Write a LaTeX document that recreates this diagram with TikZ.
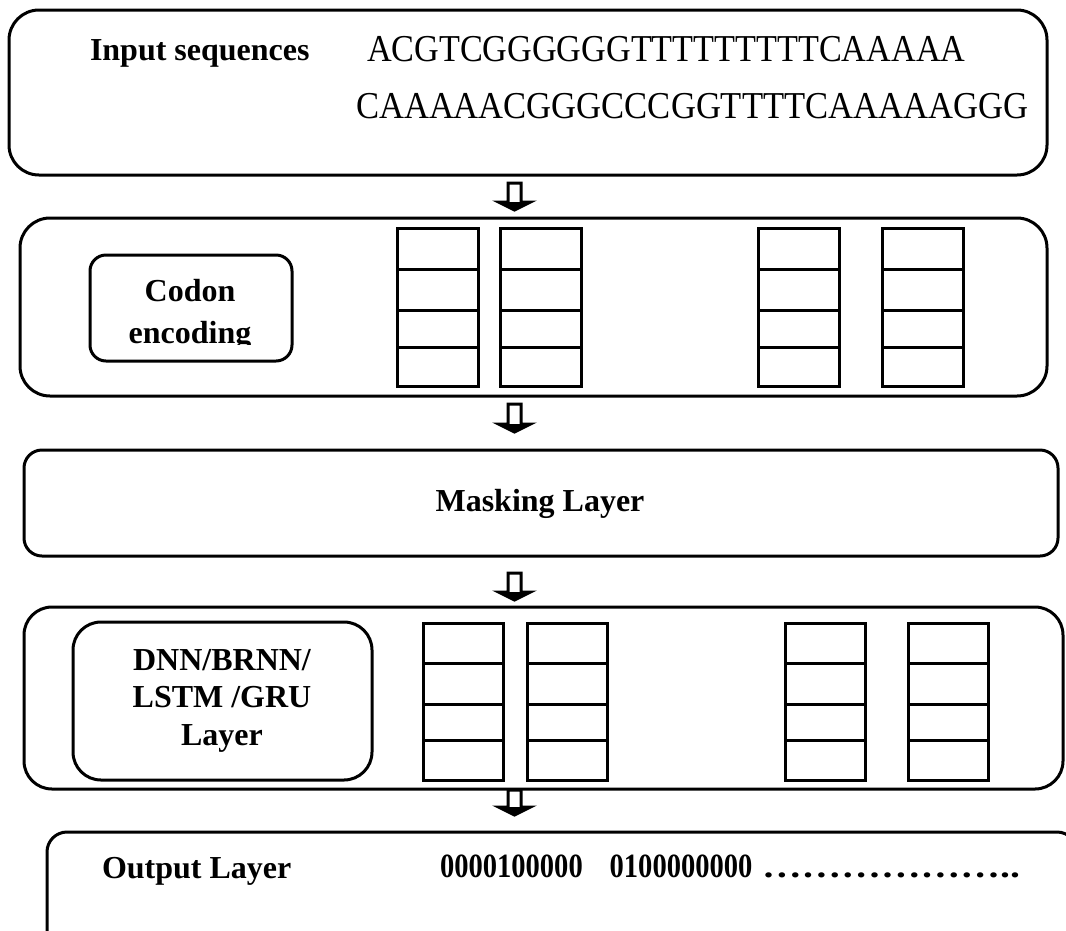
\documentclass[tikz,border=0pt]{standalone}
\usepackage{fontspec}
\setmainfont{Liberation Serif}
\tikzset{
  box/.style={draw=black, line width=3pt, inner sep=0pt, outer sep=0pt, anchor=north west, fill=white},
  cellline/.style={draw=black, line width=3pt},
  barrow/.style={draw=black, line width=3pt, fill=white, line join=miter},
  bhead/.style={fill=black},
  btxt/.style={inner sep=0pt, outer sep=0pt, font=\bfseries\fontsize{32}{38}\selectfont},
  seqtxt/.style={inner sep=0pt, outer sep=0pt, font=\fontsize{38}{44}\selectfont},
}
\newcommand\blockarr[2]{%
  \draw[barrow] (508,#1) -- (521,#1) -- (521,{#2-8}) -- (530.5,{#2-8}) -- (514.5,#2) -- (498.5,{#2-8}) -- (508,{#2-8}) -- cycle;
  \fill[bhead] (530.5,{#2-8}) -- (514.5,#2) -- (498.5,{#2-8}) -- cycle;}
\begin{document}
\begin{tikzpicture}[x=1pt,y=-1pt]
\useasboundingbox (0,0) rectangle (1066,930);
\clip (0,0) rectangle (1066,930);
% boxes
\node[box, rounded corners=30pt, minimum width=1038pt, minimum height=165pt] (inp) at (9,10) {};
\node[box, rounded corners=30pt, minimum width=1027pt, minimum height=178pt] (enc) at (20,218) {};
\node[box, rounded corners=18pt, minimum width=1034pt, minimum height=106pt] (mask) at (24,450) {};
\node[box, rounded corners=28pt, minimum width=1039pt, minimum height=182pt] (rnn) at (24,607) {};
\node[box, rounded corners=20pt, minimum width=1030pt, minimum height=130pt] (out) at (47,832) {};
\node[box, rounded corners=16pt, minimum width=202pt, minimum height=106pt] (codon) at (90,255) {};
\node[box, rounded corners=28pt, minimum width=299pt, minimum height=158pt] (dnn) at (73,622) {};
% arrows
\blockarr{183}{210}
\blockarr{404}{432}
\blockarr{573}{600}
\blockarr{790}{815}
% cells in encoding box
\foreach \x in {397,500,758,882}{
  \draw[cellline] (\x,228) rectangle ({\x+81},386);
  \foreach \y in {269,310,347}{\draw[cellline] (\x,\y) -- ({\x+81},\y);}
}
% cells in rnn box
\foreach \x in {423,527,785,908}{
  \draw[cellline] (\x,623) rectangle ({\x+80},780);
  \foreach \y in {663,704,740}{\draw[cellline] (\x,\y) -- ({\x+80},\y);}
}
% texts
\node[btxt, anchor=base west] (tin) at (90,60) {Input sequences};
\node[seqtxt, anchor=base west] (s1) at (367,61) {\scalebox{0.9}[1]{ACGTCGGGGGGTTTTTTTTTCAAAAA}};
\node[seqtxt, anchor=base west] (s2) at (356,118) {\scalebox{0.91}[1]{CAAAAACGGGCCCGGTTTTCAAAAAGGG}};
\begin{scope}
\clip (92,257) rectangle (290,344);
\node[btxt, anchor=base] (tc1) at (190,301) {Codon};
\node[btxt, anchor=base] (tc2) at (190,343) {encoding};
\end{scope}
\node[btxt, anchor=base] (tm) at (540,511) {Masking Layer};
\node[btxt, anchor=base] (td1) at (222,670) {DNN/BRNN/};
\node[btxt, anchor=base] (td2) at (222,707) {LSTM /GRU};
\node[btxt, anchor=base] (td3) at (222,745) {Layer};
\node[btxt, anchor=base west] (to) at (102,878) {Output Layer};
\node[btxt, font=\bfseries\fontsize{34}{40}\selectfont, anchor=base west] (tv) at (440,877) {\scalebox{0.84}[1]{0000100000\hspace{32pt}0100000000}};
\node[btxt, anchor=base west] (tdots) at (762,877) {\scalebox{1.24}[1]{………………..}};
\end{tikzpicture}
\end{document}
